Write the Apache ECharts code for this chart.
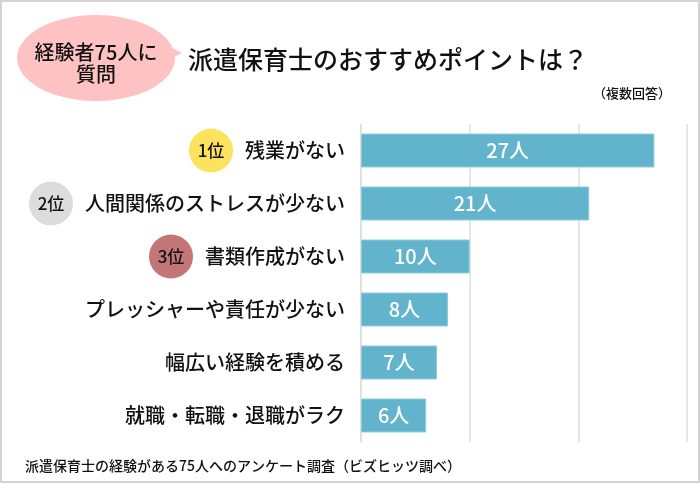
<!DOCTYPE html>
<html>
<head>
<meta charset="utf-8">
<script src="https://cdn.jsdelivr.net/npm/echarts@6/dist/echarts.min.js"></script>
<style>
  html, body { margin: 0; padding: 0; background: #fff; }
  #chart { width: 700px; height: 483px; }
</style>
</head>
<body>
<div id="chart"></div>
<script>
// データ
var categories = ['残業がない', '人間関係のストレスが少ない', '書類作成がない', 'プレッシャーや責任が少ない', '幅広い経験を積める', '就職・転職・退職がラク'];
var values = [27, 21, 10, 8, 7, 6];
var ranks = ['1位', '2位', '3位'];
var rankColors = ['#fde25e', '#dcdcdc', '#c47676'];

var font = '"Noto Sans CJK JP", "Noto Sans", sans-serif';

var rich = {
  name: { fontSize: 20, fontWeight: 500, color: '#111', fontFamily: font, padding: [0, 0, 0, 12] },
  plain: { fontSize: 20, fontWeight: 500, color: '#111', fontFamily: font }
};
ranks.forEach(function (r, i) {
  rich['r' + i] = {
    fontSize: 17, fontWeight: 500, color: '#111', fontFamily: font,
    backgroundColor: rankColors[i],
    width: 44, height: 44, lineHeight: 44, borderRadius: 22, align: 'center'
  };
});

var chart = echarts.init(document.getElementById('chart'));
chart.setOption({
  animation: false,
  textStyle: { fontFamily: font },
  grid: { left: 361, right: 13, top: 124, bottom: 41, containLabel: false },
  xAxis: {
    type: 'value', min: 0, max: 30, interval: 10,
    axisLabel: { show: false },
    axisLine: { show: false },
    axisTick: { show: false },
    splitLine: { lineStyle: { color: '#dedede', width: 1.5 } }
  },
  yAxis: {
    type: 'category', inverse: true, data: categories,
    axisLine: { show: true, lineStyle: { color: '#dedede', width: 1.5 } },
    axisTick: { show: false },
    axisLabel: {
      margin: 16,
      formatter: function (v, i) {
        if (i < ranks.length) return '{r' + i + '|' + ranks[i] + '}{name|' + v + '}';
        return '{plain|' + v + '}';
      },
      rich: rich
    }
  },
  series: [{
    type: 'bar', data: values, barCategoryGap: '36%',
    itemStyle: { color: '#62b4cc', borderColor: '#8ccbdc', borderWidth: 1 },
    label: {
      show: true, position: 'inside', color: '#fff', fontSize: 20, fontWeight: 500, fontFamily: font,
      formatter: '{c}人'
    }
  }],
  graphic: [
    { type: 'rect', shape: { x: 1, y: 1, width: 698, height: 481 }, style: { fill: 'none', stroke: '#d4d4d4', lineWidth: 2 } },
    { type: 'polygon', shape: { points: [[160, 42], [182, 53], [160, 64]] }, style: { fill: '#ffc2c2' } },
    { type: 'ellipse', shape: { cx: 96, cy: 58, rx: 79, ry: 43 }, style: { fill: '#ffc2c2' } },
    { type: 'text', x: 96, y: 52, style: { text: '経験者75人に', fontSize: 20, fontWeight: 500, fill: '#111', fontFamily: font, align: 'center', verticalAlign: 'middle' } },
    { type: 'text', x: 96, y: 74, style: { text: '質問', fontSize: 20, fontWeight: 500, fill: '#111', fontFamily: font, align: 'center', verticalAlign: 'middle' } },
    { type: 'text', x: 188, y: 59, style: { text: '派遣保育士のおすすめポイントは？', fontSize: 25, fontWeight: 500, fill: '#111', fontFamily: font, verticalAlign: 'middle' } },
    { type: 'text', x: 671, y: 93, style: { text: '（複数回答）', fontSize: 13, fontWeight: 500, fill: '#111', fontFamily: font, align: 'right', verticalAlign: 'middle' } },
    { type: 'text', x: 25, y: 466, style: { text: '派遣保育士の経験がある75人へのアンケート調査（ビズヒッツ調べ）', fontSize: 14, fontWeight: 500, fill: '#111', fontFamily: font, verticalAlign: 'middle' } }
  ]
});
</script>
</body>
</html>
